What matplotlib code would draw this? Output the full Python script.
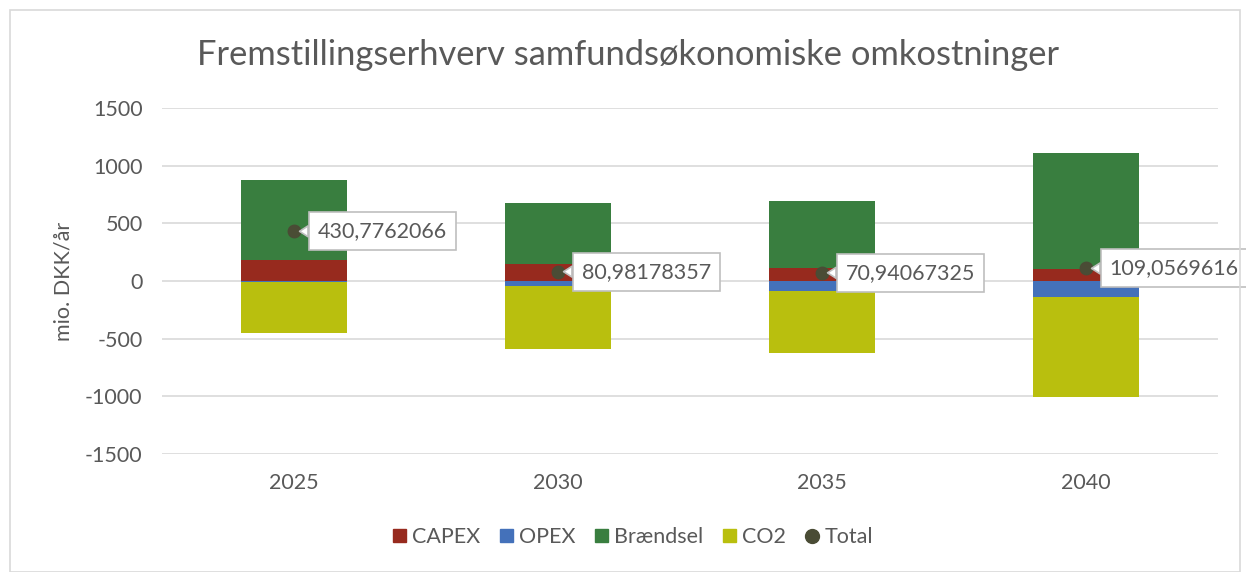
import numpy as np
import matplotlib.pyplot as plt
from matplotlib.patches import Rectangle
from matplotlib.lines import Line2D

plt.rcParams['font.family'] = ['Lato', 'DejaVu Sans']
plt.rcParams['axes.unicode_minus'] = False

years = ["2025", "2030", "2035", "2040"]
capex = [180, 145, 113, 107]
opex = [-8, -40, -87, -136]
braendsel = [700, 528, 583, 1005]
co2 = [-441, -552, -537, -866]
total = [430.7762066, 80.98178357, 70.94067325, 109.0569616]
total_labels = ["430,7762066", "80,98178357", "70,94067325", "109,0569616"]

series = [("CAPEX", capex, "#972A1E"),
          ("OPEX", opex, "#4471BA"),
          ("Brændsel", braendsel, "#397E3F"),
          ("CO2", co2, "#B9BF0E")]

txt = "#595959"
fs = 15.5

fig = plt.figure(figsize=(12.46, 5.72), dpi=100)
fig.patches.append(Rectangle((10/1246, 0), 1230/1246, 562/572, transform=fig.transFigure,
                             fill=False, edgecolor="#d9d9d9", linewidth=1.2))
ax = fig.add_axes([162/1246, 118/572, 1056/1246, 346/572])

x = np.arange(len(years))
pos_base = np.zeros(len(years))
neg_base = np.zeros(len(years))
for name, vals, col in series:
    vals = np.array(vals, dtype=float)
    bottom = np.where(vals >= 0, pos_base, neg_base)
    ax.bar(x, vals, width=0.4, bottom=bottom, color=col, label=name, zorder=2)
    pos_base += np.where(vals >= 0, vals, 0)
    neg_base += np.where(vals < 0, vals, 0)

ax.plot(x, total, linestyle="none", marker="o", markersize=9, color="#4A4C35", zorder=4)

for xi, yi, lab in zip(x, total, total_labels):
    ax.annotate(lab, xy=(xi, yi), xytext=(17, 0), textcoords="offset points",
                fontsize=fs, color=txt, va="center", ha="left", zorder=5,
                bbox=dict(boxstyle="square,pad=0.42", fc="white", ec="#bfbfbf", lw=1.2),
                arrowprops=dict(arrowstyle="wedge,tail_width=0.5", fc="white", ec="#bfbfbf",
                                lw=1.2, shrinkA=0, shrinkB=4))

ax.set_ylim(-1500, 1500)
ax.set_xlim(-0.5, len(years) - 0.5)
ax.set_yticks(np.arange(-1500, 1501, 500))
ax.set_xticks(x)
ax.set_xticklabels(years)
ax.grid(axis="y", color="#d9d9d9", linewidth=1.2, zorder=0)
ax.set_axisbelow(True)
for s in ax.spines.values():
    s.set_visible(False)
ax.tick_params(length=0, labelsize=fs, colors=txt, pad=14)
ax.tick_params(axis="x", pad=14)
ax.set_ylabel("mio. DKK/år", fontsize=fs, color=txt, labelpad=8)

fig.text(628/1246, 1 - 55/572, "Fremstillingserhverv samfundsøkonomiske omkostninger",
         fontsize=24.8, color=txt, ha="center", va="center")

handles = [Rectangle((0, 0), 1, 1, color=c) for _, _, c in series]
handles.append(Line2D([], [], linestyle="none", marker="o", markersize=10, color="#4A4C35"))
labels = [n for n, _, _ in series] + ["Total"]
fig.legend(handles, labels, loc="center", bbox_to_anchor=(633/1246, 1 - 537/572), ncol=5,
           frameon=False, fontsize=fs, labelcolor=txt, handlelength=0.6, handleheight=0.6,
           handletextpad=0.3, columnspacing=0.9)

fig.savefig("out.png", dpi=100)
